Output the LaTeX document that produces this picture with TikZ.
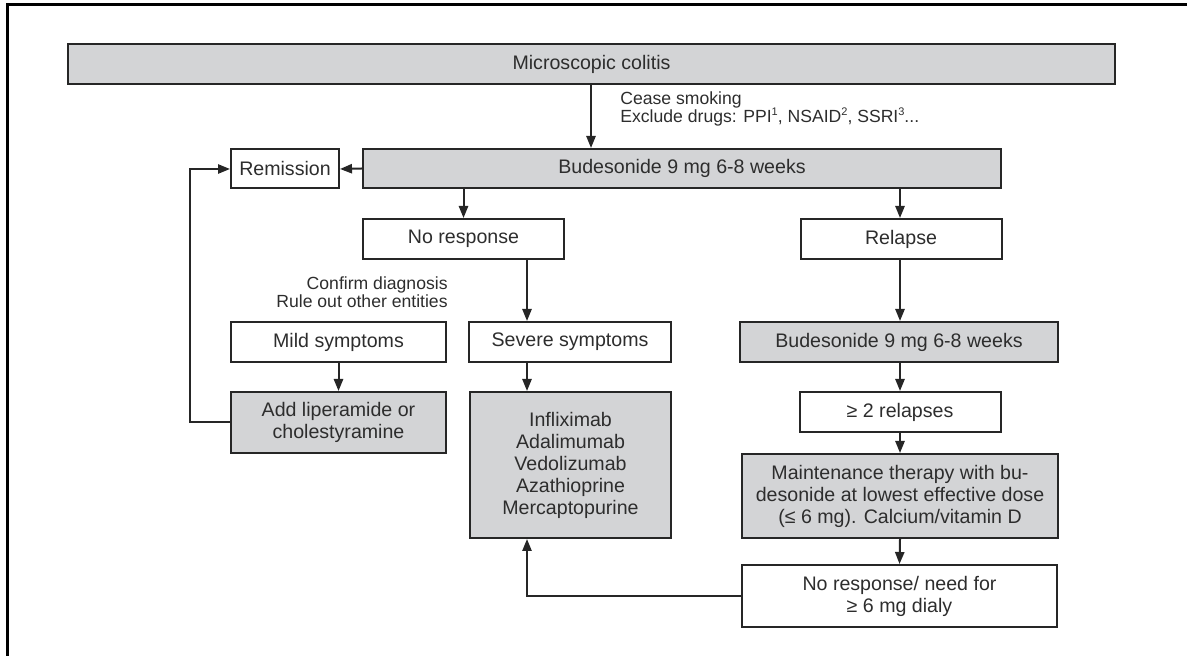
\documentclass[tikz,border=0pt]{standalone}
\usepackage{fontspec}
\setmainfont{Liberation Sans}
\usetikzlibrary{arrows.meta}
\definecolor{boxgray}{RGB}{211,212,214}
\definecolor{linegray}{RGB}{38,38,38}
\definecolor{txtgray}{RGB}{45,45,45}
\newcommand{\smallsup}[1]{\raisebox{0.75ex}{\fontsize{5.5}{5.5}\selectfont #1}}
\begin{document}
\begin{tikzpicture}[x=0.5pt,y=-0.5pt]
\tikzstyle{every node}=[text=txtgray]
\tikzstyle{box}=[draw=linegray,line width=1pt,inner sep=0pt,align=center,font=\fontsize{9.8}{11}\selectfont]
\tikzstyle{gbox}=[box,fill=boxgray]
\tikzstyle{note}=[inner sep=0pt,font=\fontsize{8.8}{9.2}\selectfont]
\tikzstyle{arr}=[draw=linegray,line width=1pt,-{Triangle[length=6pt,width=4.6pt]}]
\useasboundingbox (0,0) rectangle (1187,656);
\draw[line width=1.5pt] (7,656) -- (7,5) -- (1187,5);

%%%------------------------------------------------------------------------------------------------------------
\node[gbox,minimum width=523.5pt,minimum height=20pt] (colitis) at (591.5,64) {Microscopic colitis};
\node[gbox,minimum width=319pt,minimum height=19.5pt] (bud) at (682,168.5) {Budesonide 9 mg 6-8 weeks};
\node[box,minimum width=54pt,minimum height=19.5pt] (remission) at (285,169) {Remission};
\node[note,anchor=west,align=left] (cease) at (620,109) {Cease smoking\\Exclude drugs: PPI\smallsup{1}, NSAID\smallsup{2}, SSRI\smallsup{3}...};

%%%------------------------------------------------------------------------------------------------------------
\node[box,minimum width=100.5pt,minimum height=20pt] (noresp) at (463.5,239) {No response};
\node[box,minimum width=100.5pt,minimum height=20pt] (relapse) at (901,239) {Relapse};
\node[note,anchor=east,align=right] (confirm) at (448,292) {Confirm diagnosis\\Rule out other entities};
\node[box,minimum width=107.5pt,minimum height=20pt] (mild) at (338.5,342) {Mild symptoms};
\node[box,minimum width=101pt,minimum height=20pt] (severe) at (570,342) {Severe symptoms};
\node[gbox,minimum width=159pt,minimum height=20pt] (bud2) at (899,342) {Budesonide 9 mg 6-8 weeks};

%%%------------------------------------------------------------------------------------------------------------
\node[gbox,minimum width=107.5pt,minimum height=30.5pt] (addlip) at (338.5,422.5) {Add liperamide or\\cholestyramine};
\node[gbox,minimum width=100.5pt,minimum height=73pt] (drugs) at (570.5,465) {Infliximab\\Adalimumab\\Vedolizumab\\Azathioprine\\Mercaptopurine};
\node[box,minimum width=100.5pt,minimum height=20pt] (tworel) at (900,412) {≥ 2 relapses};
\node[gbox,minimum width=158pt,minimum height=42pt] (maint) at (900,496) {Maintenance therapy with bu-\\desonide at lowest effective dose\\(≤ 6 mg). Calcium/vitamin D};
\node[box,minimum width=157.5pt,minimum height=31pt] (noresp2) at (899.5,596) {No response/ need for\\≥ 6 mg dialy};

%%%------------------------------------------------------------------------------------------------------------
\coordinate (sevx) at (527,0);
\coordinate (loopx) at (190,0);
\draw[arr] (colitis.south -| 591,0) -- (bud.north -| 591,0);
\draw[arr] (bud.west) -- (remission.east);
\draw[arr] (bud.south -| noresp.north) -- (noresp.north);
\draw[arr] (bud.south -| 900,0) -- (relapse.north -| 900,0);
\draw[arr] (noresp.south -| sevx) -- (severe.north -| sevx);
\draw[arr] (relapse.south -| 900,0) -- (bud2.north -| 900,0);
\draw[arr] (mild.south) -- (addlip.north);
\draw[arr] (severe.south -| sevx) -- (drugs.north -| sevx);
\draw[arr] (bud2.south -| 900,0) -- (tworel.north -| 900,0);
\draw[arr] (tworel.south) -- (maint.north);
\draw[arr] (maint.south) -- (noresp2.north);
\draw[arr] (addlip.west) -- (addlip.west -| loopx) |- (remission.west);
\draw[arr] (noresp2.west) -| (drugs.south -| sevx);
\end{tikzpicture}
\end{document}
